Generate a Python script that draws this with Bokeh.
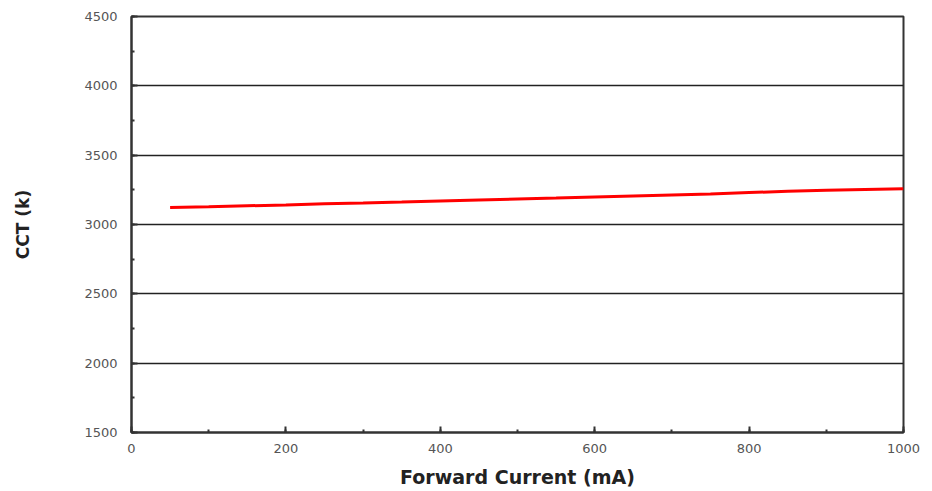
from bokeh.plotting import figure
from bokeh.models import Range1d, SingleIntervalTicker
from bokeh.embed import file_html
from bokeh.resources import INLINE

current_ma = [50, 100, 150, 200, 250, 300, 350, 400, 450, 500,
              550, 600, 650, 700, 750, 800, 850, 900, 950, 1000]
cct_k = [3123, 3128, 3135, 3141, 3149, 3155, 3162, 3170, 3177, 3184,
         3191, 3199, 3206, 3213, 3220, 3230, 3240, 3247, 3252, 3257]

x_label = "Forward Current (mA)"
y_label = "CCT (k)"

p = figure(width=920, height=490, output_backend="svg", toolbar_location=None,
           x_range=Range1d(0, 1000), y_range=Range1d(1500, 4500),
           min_border_left=131, min_border_right=17, min_border_top=16,
           min_border_bottom=58)

p.line(current_ma, cct_k, line_color="#ff0000", line_width=3)

p.xaxis.ticker = SingleIntervalTicker(interval=200, num_minor_ticks=2)
p.yaxis.ticker = SingleIntervalTicker(interval=500, num_minor_ticks=2)

for ax in (p.xaxis, p.yaxis):
    ax.axis_line_color = "#333333"
    ax.axis_line_width = 2
    ax.major_tick_in = 6
    ax.major_tick_out = 0
    ax.minor_tick_in = 3
    ax.minor_tick_out = 0
    ax.major_tick_line_color = "#333333"
    ax.minor_tick_line_color = "#333333"
    ax.major_tick_line_width = 2
    ax.minor_tick_line_width = 2
    ax.major_label_text_font = "DejaVu Sans"
    ax.major_label_text_font_size = "13px"
    ax.major_label_text_color = "#555555"
    ax.axis_label_text_font = "DejaVu Sans"
    ax.axis_label_text_font_style = "bold"
    ax.axis_label_text_color = "#222222"

p.xaxis.axis_label = x_label
p.yaxis.axis_label = y_label
p.xaxis.axis_label_text_font_size = "19px"
p.yaxis.axis_label_text_font_size = "17px"
p.xaxis.major_label_standoff = 11
p.yaxis.major_label_standoff = 14
p.xaxis.axis_label_standoff = 10
p.yaxis.axis_label_standoff = 48

p.xgrid.grid_line_color = None
p.ygrid.grid_line_color = "#222222"
p.ygrid.grid_line_width = 1.5

p.outline_line_color = "#333333"
p.outline_line_width = 2
p.background_fill_color = "white"
p.border_fill_color = "white"

open("out.html", "w").write(file_html(p, INLINE))
